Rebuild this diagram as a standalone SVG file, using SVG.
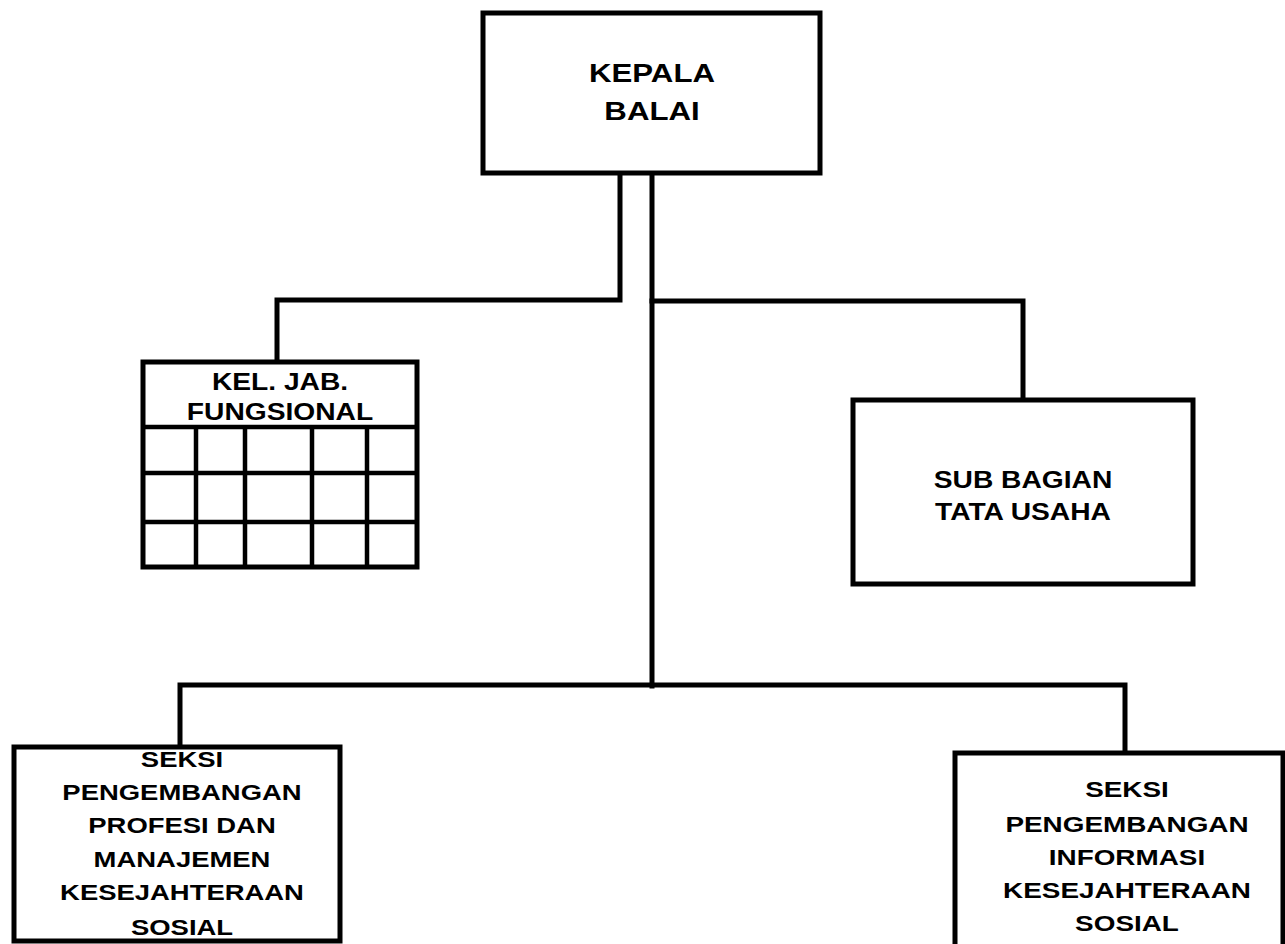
<svg xmlns="http://www.w3.org/2000/svg" width="1285" height="944" viewBox="0 0 1285 944">
<style>
.box{fill:#fff;stroke:#000;stroke-width:5}
.grid{fill:none;stroke:#000;stroke-width:4.5}
.conn{fill:none;stroke:#000;stroke-width:5;stroke-linejoin:miter;stroke-linecap:square}
.t{font-family:"Liberation Sans",Arial,sans-serif;font-weight:bold;fill:#000;text-anchor:middle}
.t26{font-size:26px}
.t23{font-size:23.5px}
.t22{font-size:22.5px}
</style>
<rect width="1285" height="944" fill="#fff"/>
<g id="connectors">
<path class="conn" d="M620,173 V300 H277 V362"/>
<path class="conn" d="M652,173 V686"/>
<path class="conn" d="M652,301 H1023 V400"/>
<path class="conn" d="M180,747 V685 H1125 V753"/>
</g>
<g id="kepala-balai">
<rect class="box" x="483" y="13" width="337" height="160"/>
<g transform="matrix(1.2,0,0,1,652,0)">
<text class="t t26" x="0" y="82">KEPALA</text>
<text class="t t26" x="0" y="120">BALAI</text>
</g>
</g>
<g id="kel-jab-fungsional">
<rect class="box" x="143" y="362" width="274" height="205"/>
<path class="grid" d="M143,427 H417 M143,473 H417 M143,522 H417 M196,427 V567 M245,427 V567 M312,427 V567 M367,427 V567"/>
<g transform="matrix(1.2,0,0,1,280,0)">
<text class="t t23" x="0" y="390">KEL. JAB.</text>
<text class="t t23" x="0" y="420">FUNGSIONAL</text>
</g>
</g>
<g id="sub-bagian-tata-usaha">
<rect class="box" x="853" y="400" width="340" height="184"/>
<g transform="matrix(1.2,0,0,1,1023,0)">
<text class="t t23" x="0" y="488">SUB BAGIAN</text>
<text class="t t23" x="0" y="520">TATA USAHA</text>
</g>
</g>
<g id="seksi-pengembangan-profesi">
<rect class="box" x="14" y="747" width="326" height="194"/>
<g transform="matrix(1.22,0,0,1,182,0)">
<text class="t t22" x="0" y="767">SEKSI</text>
<text class="t t22" x="0" y="800">PENGEMBANGAN</text>
<text class="t t22" x="0" y="833">PROFESI DAN</text>
<text class="t t22" x="0" y="867">MANAJEMEN</text>
<text class="t t22" x="0" y="900">KESEJAHTERAAN</text>
<text class="t t22" x="0" y="935">SOSIAL</text>
</g>
</g>
<g id="seksi-pengembangan-informasi">
<rect class="box" x="955" y="753" width="328" height="200"/>
<g transform="matrix(1.24,0,0,1,1127,0)">
<text class="t t22" x="0" y="797">SEKSI</text>
<text class="t t22" x="0" y="832">PENGEMBANGAN</text>
<text class="t t22" x="0" y="865">INFORMASI</text>
<text class="t t22" x="0" y="898">KESEJAHTERAAN</text>
<text class="t t22" x="0" y="931">SOSIAL</text>
</g>
</g>
</svg>
